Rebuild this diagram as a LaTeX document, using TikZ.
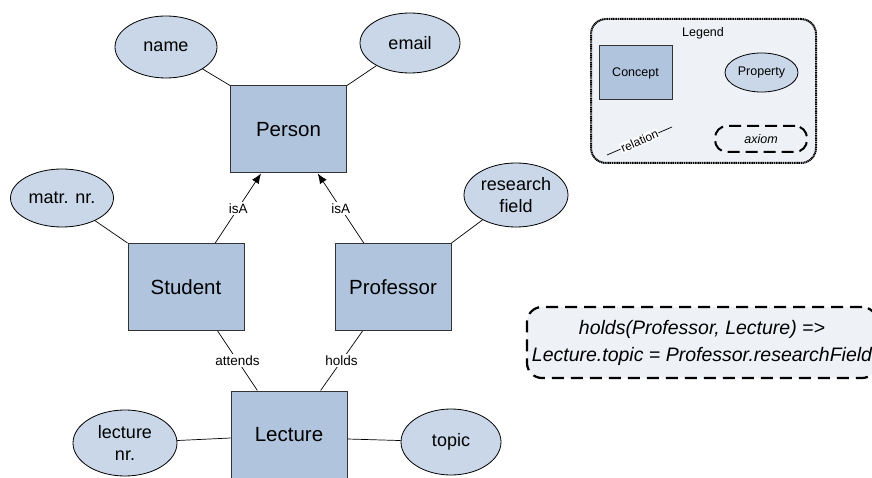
\documentclass[tikz,border=0pt]{standalone}
\usepackage{fontspec}
\setmainfont{Liberation Sans}
\usetikzlibrary{shapes.geometric,arrows.meta,calc}
\definecolor{conceptfill}{HTML}{B0C4DE}
\definecolor{propfill}{HTML}{C9D7E8}
\definecolor{legendfill}{HTML}{EEF1F6}
\definecolor{edgegray}{HTML}{333333}

\begin{document}
\begin{tikzpicture}[x=1pt,y=-1pt,
  concept/.style={draw=edgegray, line width=1pt, fill=conceptfill,
    minimum width=116pt, minimum height=87pt, inner sep=0pt,
    font=\fontsize{20.5}{24}\selectfont},
  property/.style={ellipse, draw=black, line width=0.8pt, fill=propfill,
    inner sep=0pt, align=center, font=\fontsize{18}{22}\selectfont},
  link/.style={draw=black, line width=0.7pt},
  isa/.style={link, -{Latex[length=10pt,width=8pt]}},
  rellabel/.style={fill=white, inner sep=1.5pt, font=\fontsize{13.5}{16}\selectfont},
  axiombox/.style={draw=black, fill=legendfill, line width=2.2pt,
    dash pattern=on 12pt off 7pt, rounded corners=15pt, align=center,
    inner sep=0pt, font=\itshape\fontsize{19.5}{27}\selectfont},
  legendtext/.style={font=\fontsize{12.5}{15}\selectfont},
]
\useasboundingbox (0,0) rectangle (872,478);

% concepts
\node[concept] (person)    at (288.5,129.5) {Person};
\node[concept] (student)   at (186,287)     {Student};
\node[concept] (professor) at (393,287)     {Professor};
\node[concept] (lecture)   at (289,434.5)   {Lecture};

% properties
\node[property, minimum width=102pt, minimum height=62pt] (name)     at (166,47)  {name};
\node[property, minimum width=100pt, minimum height=60pt] (email)    at (410,43)  {email};
\node[property, minimum width=103pt, minimum height=58pt] (matr)     at (62,198)  {matr. nr.};
\node[property, minimum width=104pt, minimum height=64pt] (research) at (516,195) {research\\field};
\node[property, minimum width=104pt, minimum height=66pt] (lecnr)    at (125,443) {lecture\\nr.};
\node[property, minimum width=100pt, minimum height=66pt] (topic)    at (451,442) {topic};

% property links
\draw[link] (name) -- (person.north west);
\draw[link] (email) -- (person.north east);
\draw[link] (matr) -- (student.north west);
\draw[link] (research) -- (professor.north east);
\draw[link] (lecnr) -- ([yshift=-3.5pt]lecture.west);
\draw[link] ([yshift=-4.5pt]lecture.east) -- (topic);

% relations
\draw[isa] ($(student.north west)!0.75!(student.north east)$)
  -- node[rellabel] {isA} ($(person.south west)!0.265!(person.south east)$);
\draw[isa] ($(professor.north west)!0.25!(professor.north east)$)
  -- node[rellabel] {isA} ($(person.south west)!0.75!(person.south east)$);
\draw[link] ($(student.south west)!0.77!(student.south east)$)
  -- node[rellabel] {attends} ($(lecture.north west)!0.23!(lecture.north east)$);
\draw[link] ($(professor.south west)!0.24!(professor.south east)$)
  -- node[rellabel] {holds} ($(lecture.north west)!0.77!(lecture.north east)$);

% axiom
\node[axiombox, minimum width=350pt, minimum height=71pt] (axiom) at (702,342.5)
  {holds(Professor, Lecture) =>\\Lecture.topic = Professor.researchField};

% legend
\node[draw=black, line width=2pt, dash pattern=on 1.2pt off 0.6pt, fill=legendfill,
  rounded corners=15pt, minimum width=225pt, minimum height=144pt] (legend) at (703.5,91) {};
\node[legendtext] (legendtitle) at (703,33) {Legend};
\node[concept, minimum width=73pt, minimum height=54pt, legendtext] (lconcept) at (635.5,73) {Concept};
\node[property, minimum width=73pt, minimum height=39pt, legendtext] (lprop) at (761.5,72.5) {Property};
\coordinate (rela) at (607,155);
\coordinate (relb) at (672,127);
\draw[link] (rela) -- node[sloped, fill=white, inner sep=0.8pt, font=\fontsize{12}{14}\selectfont] {relation} (relb);
\node[axiombox, line width=2pt, dash pattern=on 12pt off 6pt, rounded corners=12pt,
  minimum width=92pt, minimum height=26pt, font=\itshape\fontsize{12.5}{15}\selectfont] (laxiom) at (761,139) {axiom};
\end{tikzpicture}
\end{document}
